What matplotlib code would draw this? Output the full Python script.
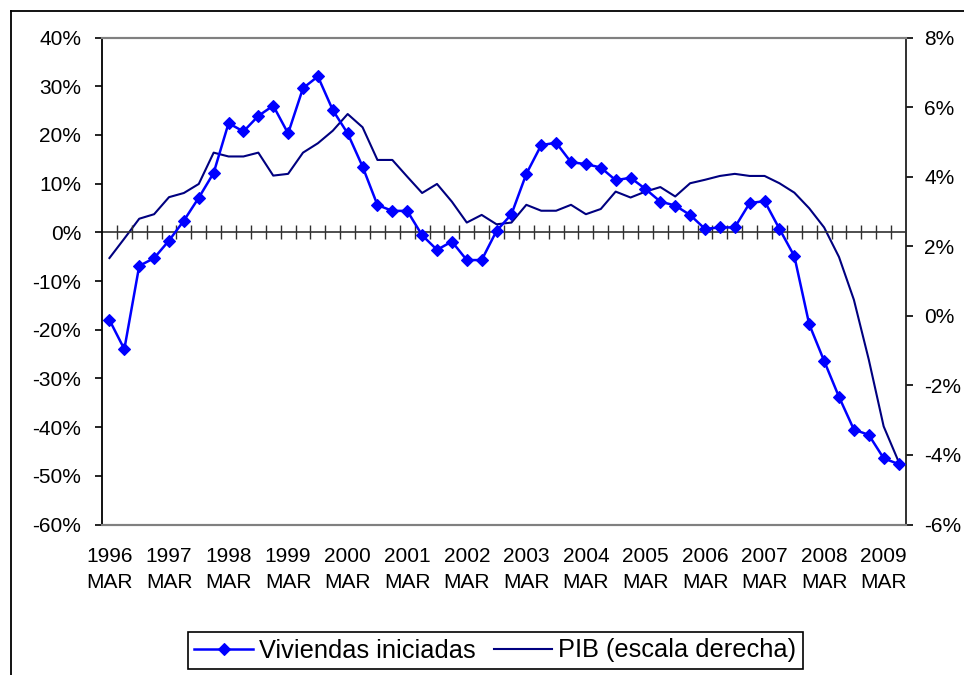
import matplotlib
matplotlib.use("Agg")
import matplotlib.pyplot as plt
from matplotlib.lines import Line2D
from matplotlib.ticker import FuncFormatter

plt.rcParams['font.family'] = ['Liberation Sans', 'DejaVu Sans']

years = list(range(1996, 2010))
quarters = ['MAR', 'JUN', 'SEP', 'DIC']

viviendas = [-18.0, -24.0, -6.9, -5.3, -1.7, 2.4, 7.1, 12.2, 22.4, 20.7,
             23.9, 26.0, 20.3, 29.6, 32.0, 25.1, 20.3, 13.5, 5.6, 4.4,
             4.4, -0.6, -3.6, -1.9, -5.7, -5.7, 0.3, 3.7, 12.0, 17.9,
             18.4, 14.4, 14.0, 13.3, 10.7, 11.2, 8.9, 6.3, 5.5, 3.55,
             0.7, 1.0, 1.0, 6.0, 6.4, 0.7, -4.9, -18.9, -26.4, -33.8,
             -40.5, -41.6, -46.4, -47.6]

pib = [1.66, 2.22, 2.79, 2.92, 3.41, 3.53, 3.79, 4.69, 4.58, 4.58,
       4.69, 4.03, 4.08, 4.69, 4.96, 5.32, 5.80, 5.42, 4.48, 4.48,
       4.00, 3.53, 3.79, 3.28, 2.68, 2.90, 2.63, 2.68, 3.19, 3.02,
       3.02, 3.19, 2.92, 3.07, 3.57, 3.40, 3.57, 3.70, 3.43, 3.81,
       3.91, 4.02, 4.08, 4.02, 4.02, 3.81, 3.54, 3.09, 2.54, 1.69,
       0.46, -1.26, -3.18, -4.19]

categories = [f"{y}\n{q}" for y in years for q in quarters][:len(viviendas)]

left_ticks = list(range(-60, 41, 10))
right_ticks = list(range(-6, 9, 2))

W, H = 964, 675
fig = plt.figure(figsize=(W / 100, H / 100), dpi=100)
ax_l, ax_r, ax_b, ax_t = 102, 906, 524.5, 37.5
ax = fig.add_axes([ax_l / W, 1 - ax_b / H, (ax_r - ax_l) / W, (ax_b - ax_t) / H])
ax2 = ax.twinx()

x = list(range(len(viviendas)))

ax2.plot(x, pib, color='#000080', lw=1.5, solid_joinstyle='round',
         label='PIB (escala derecha)')
ax.axhline(0, color='#303030', lw=1.2, zorder=1)
ax.plot(x, viviendas, color='#0000FF', lw=1.8, marker='D', ms=5.8,
        mec='#0000FF', mew=0.8, label='Viviendas iniciadas', zorder=3)

ax.set_zorder(ax2.get_zorder() + 1)
ax.patch.set_visible(False)

ax.set_xlim(-0.5, len(viviendas) - 0.5)
ax.set_ylim(-60, 40)
ax2.set_ylim(-6, 8)

ax.set_yticks(left_ticks)
ax.yaxis.set_major_formatter(FuncFormatter(lambda v, p: f"{int(v)}%"))
ax2.set_yticks(right_ticks)
ax2.yaxis.set_major_formatter(FuncFormatter(lambda v, p: f"{int(v)}%"))

lab_pos = [i for i in x if i % 4 == 0]
ax.set_xticks(lab_pos)
ax.set_xticklabels([categories[i] for i in lab_pos], linespacing=1.5)
ax.tick_params(axis='x', length=0, pad=16, labelsize=15)
ax.tick_params(axis='y', direction='out', length=5, width=1.2, pad=10,
               labelsize=15, color='black')
ax2.tick_params(axis='y', direction='out', length=5, width=1.2, pad=8,
                labelsize=15, color='black')

for a in (ax, ax2):
    a.spines['top'].set_color('#808080')
    a.spines['bottom'].set_color('#808080')
    a.spines['top'].set_linewidth(1.5)
    a.spines['bottom'].set_linewidth(1.5)
ax.spines['left'].set_color('black')
ax.spines['left'].set_linewidth(1.3)
ax.spines['right'].set_visible(False)
ax2.spines['left'].set_visible(False)
ax2.spines['right'].set_color('#202020')
ax2.spines['right'].set_linewidth(1.3)

# category axis crossing at 0 on the left scale: tick marks at category boundaries
ymin, ymax = ax.get_ylim()
loc = (0 - ymin) / (ymax - ymin)
sec = ax.secondary_xaxis(loc)
sec.set_xticks([i + 0.5 for i in x[:-1]])
sec.set_xticklabels([])
sec.tick_params(axis='x', direction='inout', length=10, width=1.0, color='#303030')
for s in sec.spines.values():
    s.set_visible(False)

# outer chart frame
fig.add_artist(Line2D([10.5 / W, 10.5 / W], [0, 1 - 10.5 / H], color='black', lw=1.3))
fig.add_artist(Line2D([10.5 / W, 1], [1 - 10.5 / H, 1 - 10.5 / H], color='black', lw=1.3))

h1, l1 = ax.get_legend_handles_labels()
h2, l2 = ax2.get_legend_handles_labels()
leg = fig.legend(h1 + h2, l1 + l2, loc='center', ncol=2,
                 bbox_to_anchor=(495.5 / W, 1 - 650.5 / H),
                 fontsize=18.3, frameon=True, fancybox=False, framealpha=1,
                 edgecolor='black', handlelength=2.3, handletextpad=0.25,
                 columnspacing=0.7, borderpad=0.25, borderaxespad=0)
leg.get_frame().set_linewidth(1.2)

fig.savefig('out.png', dpi=100)
